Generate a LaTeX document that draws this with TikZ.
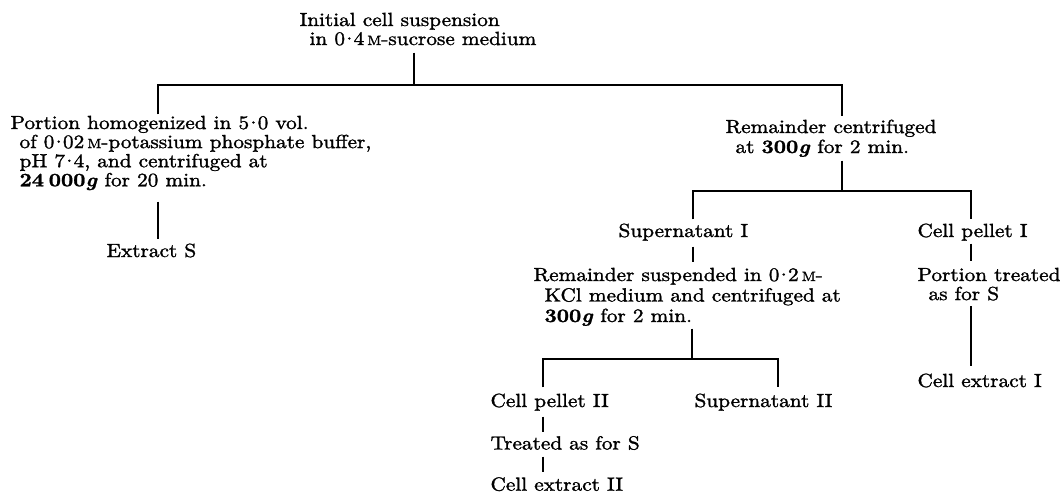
\documentclass[tikz,border=0pt]{standalone}
\usepackage{fontspec}
\setmainfont{lmroman10-regular.otf}[BoldFont=lmroman10-bold.otf, ItalicFont=lmroman10-italic.otf, BoldItalicFont=lmroman10-bolditalic.otf, FakeStretch=1.12, FakeBold=1.5]
\newcommand\ml[2]{\fontsize{19}{#1}\selectfont\begin{tabular}[t]{@{}l@{}}#2\end{tabular}}
\newcommand\scM{{\fontsize{13.5}{13.5}\selectfont M}}
\newcommand\gr[1]{\textbf{#1\textit{g}}}
\newcommand\cdt{\kern-0.21em·\kern-0.21em}
\begin{document}
\begin{tikzpicture}[x=1pt,y=-1pt,line width=1.1pt,
  txt/.style={inner sep=0pt,anchor=base west}]
\useasboundingbox (0,0) rectangle (1063,493);
% nodes
\node[txt] (init) at (299,26) {\ml{19pt}{Initial cell suspension\\\hspace{10pt}in 0\cdt4\,\scM-sucrose medium}};
\node[txt] (hom) at (10,129) {\ml{19pt}{Portion homogenized in 5\cdt0 vol.\\\hspace{9pt}of 0\cdt02\,\scM-potassium phosphate buffer,\\\hspace{9pt}pH 7\cdt4, and centrifuged at\\\hspace{9pt}\gr{24\hspace{0.25em}000} for 20 min.}};
\node[txt] (extS) at (106,257) {\ml{19pt}{Extract S}};
\node[txt] (rem) at (725,133) {\ml{20pt}{Remainder centrifuged\\\hspace{10pt}at \gr{300} for 2 min.}};
\node[txt] (sup1) at (618,237) {\ml{19pt}{Supernatant I}};
\node[txt] (pel1) at (917,237) {\ml{19pt}{Cell pellet I}};
\node[txt] (rem2) at (533,281) {\ml{20.5pt}{Remainder suspended in 0\cdt2\,\scM-\\\hspace{11pt}KCl medium and centrifuged at\\\hspace{11pt}\gr{300} for 2 min.}};
\node[txt] (ptr) at (917,281) {\ml{19pt}{Portion treated\\\hspace{11pt}as for S}};
\node[txt] (ext1) at (917,387) {\ml{19pt}{Cell extract I}};
\node[txt] (pel2) at (490,407) {\ml{19pt}{Cell pellet II}};
\node[txt] (sup2) at (694,407) {\ml{19pt}{Supernatant II}};
\node[txt] (treat) at (490,449.5) {\ml{19pt}{Treated as for S}};
\node[txt] (ext2) at (490,490.7) {\ml{19pt}{Cell extract II}};
% junctions
\coordinate (jA) at (414,85);
\coordinate (jL) at (158,85);
\coordinate (jR) at (842,85);
\coordinate (jB) at (842,191);
\coordinate (jB1) at (693,191);
\coordinate (jB2) at (971,191);
\coordinate (xS) at (693,0);
\coordinate (jC) at (692,359);
\coordinate (jC1) at (543,359);
\coordinate (jC2) at (778,359);
% connectors
\draw[shorten <=1.3pt] (init.south -| jA) -- (jA);
\draw[shorten <=0.7pt,shorten >=2pt] (hom.north -| jL) -- (jL) -- (jR) -- (rem.north -| jR);
\draw[shorten <=9pt,shorten >=3.7pt] (hom.south -| jL) -- (extS.north -| jL);
\draw[shorten <=1pt] (rem.south -| jB) -- (jB);
\draw[shorten <=3.7pt,shorten >=3.7pt] (sup1.north -| jB1) -- (jB1) -- (jB2) -- (pel1.north -| jB2);
\draw[shorten <=3.3pt,shorten >=3.65pt] (sup1.south -| xS) -- (rem2.north -| xS);
\draw[shorten <=0.3pt,shorten >=5.7pt] (pel1.south -| jB2) -- (ptr.north -| jB2);
\draw[shorten >=6.7pt] (ptr.south -| jB2) -- (ext1.north -| jB2);
\draw (rem2.south -| jC) -- (jC);
\draw[shorten <=5.7pt,shorten >=5.7pt] (pel2.north -| jC1) -- (jC1) -- (jC2) -- (sup2.north -| jC2);
\draw[shorten <=3.3pt,shorten >=3.2pt] (pel2.south -| jC1) -- (treat.north -| jC1);
\draw[shorten <=0.8pt,shorten >=4.4pt] (treat.south -| jC1) -- (ext2.north -| jC1);
\end{tikzpicture}
\end{document}
